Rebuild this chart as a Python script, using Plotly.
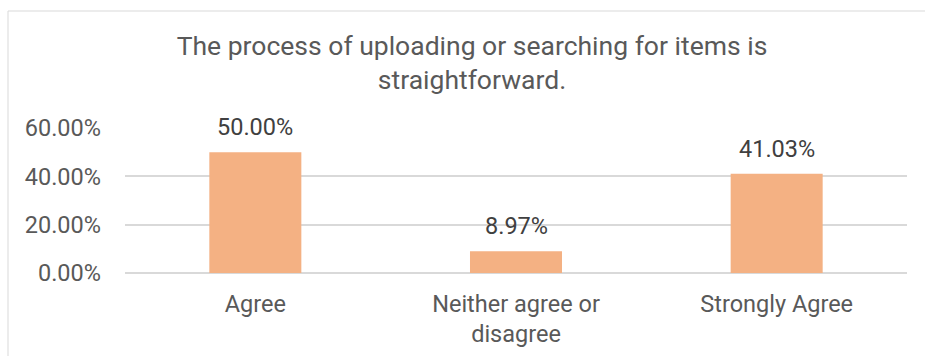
import plotly.graph_objects as go

# Survey responses
categories = ["Agree", "Neither agree or<br>disagree", "Strongly Agree"]
shares = [0.5000, 0.0897, 0.4103]
title_text = "The process of uploading or searching for items is<br>straightforward."

BAR_COLOR = "#F4B183"
GRID_COLOR = "#D9D9D9"
TEXT_COLOR = "#595959"
LABEL_COLOR = "#404040"
FONT = "Roboto, Arial, sans-serif"
LABEL_SIZE = 23.5
TITLE_SIZE = 26.5

fig = go.Figure(
    go.Bar(
        x=categories,
        y=shares,
        marker=dict(color=BAR_COLOR, line=dict(width=0)),
        width=0.353,
        hoverinfo="skip",
    )
)

# Value labels above each bar
for cat, val in zip(categories, shares):
    fig.add_annotation(
        x=cat, y=val, xref="x", yref="y",
        text=f"{val * 100:.2f}%",
        showarrow=False, yanchor="bottom", yshift=9,
        font=dict(family=FONT, size=LABEL_SIZE, color=LABEL_COLOR),
    )

# Chart frame (left and top edges)
L, R, T, B = 125, 907, 128, 273
def px_x(px):
    return (px - L) / (R - L)
def px_y(py):
    return (B - py) / (B - T)

frame = dict(color=GRID_COLOR, width=1)
fig.add_shape(type="line", xref="paper", yref="paper",
              x0=px_x(8), x1=px_x(8), y0=px_y(11), y1=px_y(400), line=frame)
fig.add_shape(type="line", xref="paper", yref="paper",
              x0=px_x(8), x1=px_x(1000), y0=px_y(11), y1=px_y(11), line=frame)

fig.update_layout(
    width=925, height=356,
    margin=dict(l=L, r=925 - R, t=T, b=356 - B, pad=0, autoexpand=False),
    paper_bgcolor="white", plot_bgcolor="white",
    showlegend=False,
    bargap=0.647,
    title=dict(
        text=title_text,
        x=472 / 925, xanchor="center", xref="container",
        y=1 - 55 / 356, yanchor="top", yref="container",
        font=dict(family=FONT, size=TITLE_SIZE, color=TEXT_COLOR),
    ),
    font=dict(family=FONT, color=TEXT_COLOR),
)

fig.update_xaxes(
    showgrid=False, showline=False, zeroline=False,
    ticks="", ticklabelstandoff=14, automargin=False,
    tickfont=dict(family=FONT, size=LABEL_SIZE, color=TEXT_COLOR),
    fixedrange=True,
)
fig.update_yaxes(
    range=[0, 0.6], dtick=0.2, tick0=0, tickformat=".2%",
    showgrid=True, gridcolor=GRID_COLOR, gridwidth=1.5,
    zeroline=True, zerolinecolor=GRID_COLOR, zerolinewidth=1.5,
    showline=False, ticks="", ticklabelstandoff=23, automargin=False,
    tickfont=dict(family=FONT, size=LABEL_SIZE, color=TEXT_COLOR),
    fixedrange=True,
)

fig.write_html("out.html", config={"displayModeBar": False})
